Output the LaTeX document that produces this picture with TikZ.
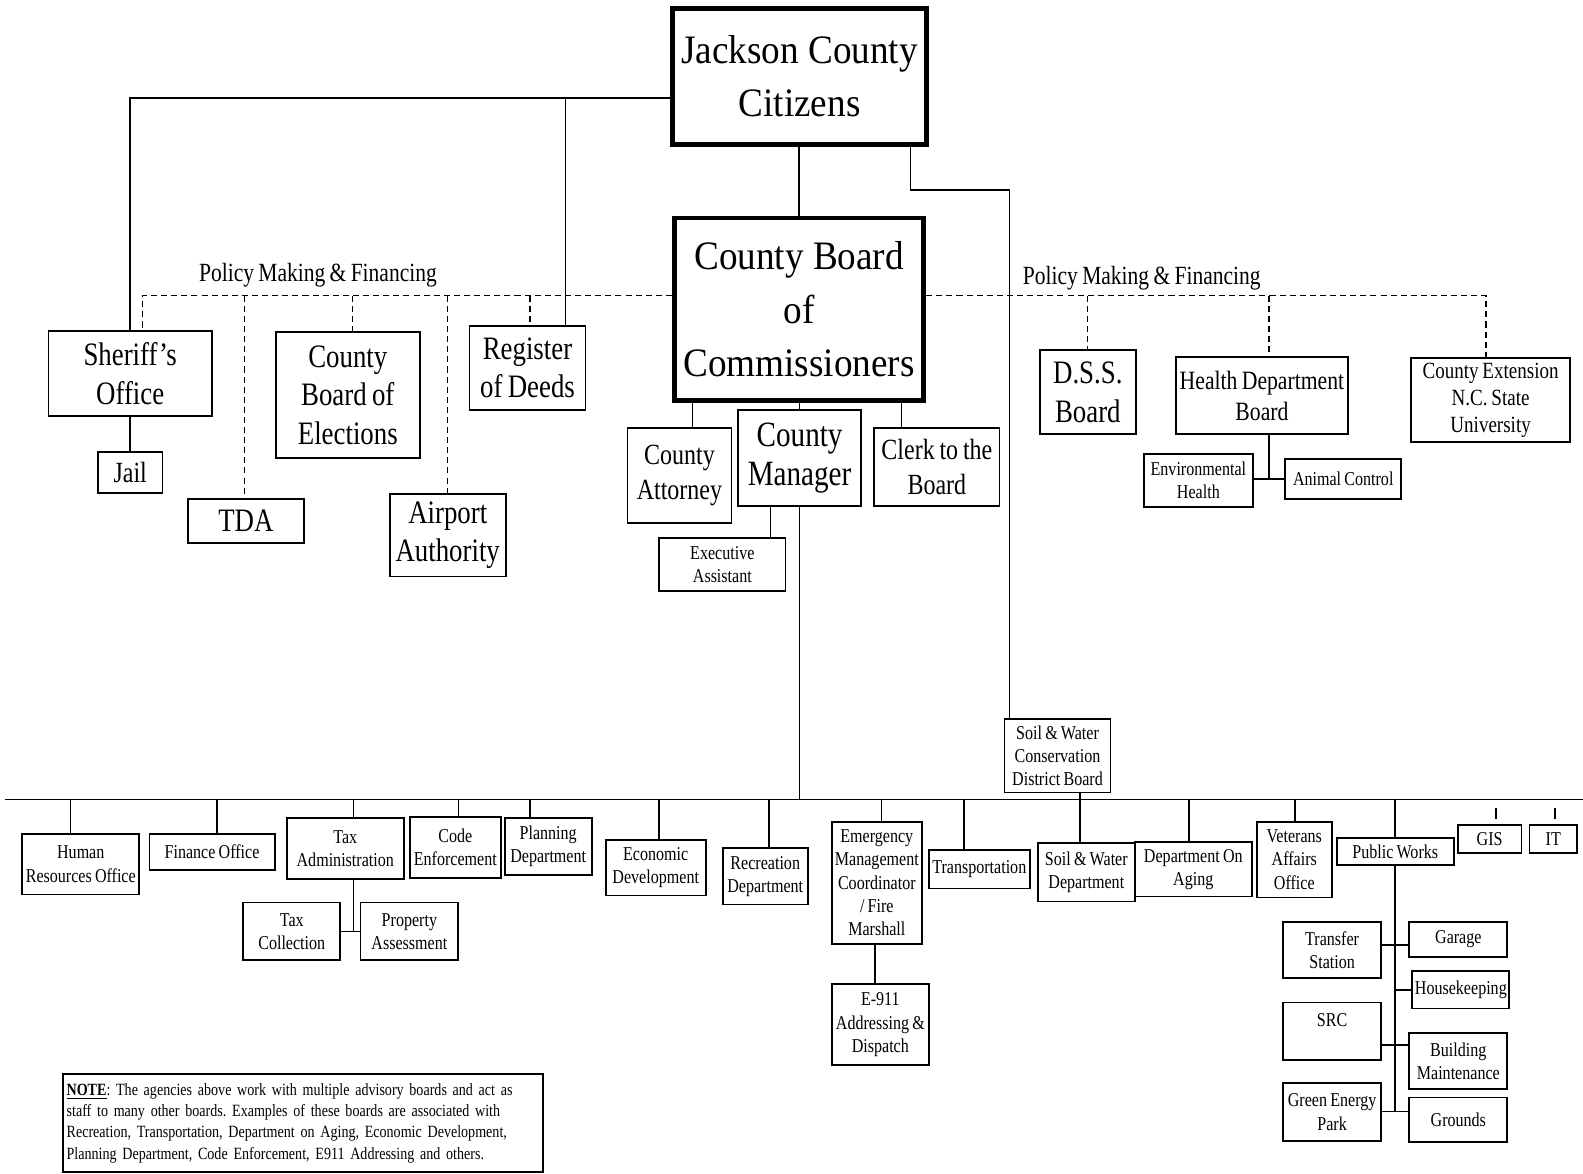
\documentclass[tikz,border=0pt]{standalone}
\usepackage{fontspec}
\setmainfont{Liberation Serif}[FakeStretch=0.82, WordSpace=0.8]
\newfontfamily\wideserif{Liberation Serif}[FakeStretch=0.92]
\usepackage{tikz}

\tikzset{
  box/.style={draw, line width=0.9pt, align=center, inner sep=1pt},
  head/.style={box, line width=2.4pt, font=\wideserif\fontsize{20}{26.5}\selectfont},
  sz/.style 2 args={minimum width=#1*0.5pt, minimum height=#2*0.5pt},
  tL/.style={font=\fontsize{16.2}{19}\selectfont},
  tM/.style={font=\fontsize{14.5}{17}\selectfont},
  tS/.style={font=\fontsize{9.7}{11.5}\selectfont},
  policy/.style={dash pattern=on 3pt off 2pt, line width=0.6pt}
}

\begin{document}
\begin{tikzpicture}[x=0.5pt, y=-0.5pt, line width=0.8pt]

% draw the space
\fill[white] (0,0) rectangle (1568,1162);
\useasboundingbox (0,0) rectangle (1568,1162);

% the two heads
\node[head, sz={252}{135}] (citizens) at (792,75.5) {Jackson County\\Citizens};
\node[head, sz={247}{181}] (board) at (791.5,306.5) {County Board\\of\\Commissioners};

% elected offices and boards, left
\node[box, tL, sz={162}{84}] (sheriff) at (129,370) {Sheriff's\\Office};
\node[box, tM, sz={64}{40}] (jail) at (129,468) {Jail};
\node[box, tL, sz={115}{44}] (tda) at (243.5,516) {TDA};
\node[box, tL, sz={143}{125}] (elections) at (344.5,391.5) {County\\Board of\\Elections};
\node[box, tL, sz={115}{82}] (airport) at (443.5,530) {Airport\\Authority};
\node[box, tL, sz={115}{83}] (register) at (522.5,364.5) {Register\\of Deeds};

% staff of the board
\node[box, tM, sz={103}{94}] (attorney) at (673,471) {County\\Attorney};
\node[box, font=\fontsize{17.6}{19.5}\selectfont, sz={122}{95}] (manager) at (792,453.5) {County\\Manager};
\node[box, tM, sz={124}{77}] (clerk) at (928,462.5) {Clerk to the\\Board};
\node[box, tS, sz={125}{52}] (exec) at (715.5,559) {Executive\\Assistant};

% boards, right
\node[box, tL, sz={95}{83}] (dss) at (1077.5,388.5) {D.S.S.\\Board};
\node[box, font=\fontsize{13.1}{15.5}\selectfont, sz={170}{76}] (health) at (1250,392) {Health Department\\Board};
\node[box, tS, sz={108}{52}] (env) at (1187,476) {Environmental\\Health};
\node[box, tS, sz={115}{39}] (animal) at (1330.5,474.5) {Animal Control};
\node[box, font=\fontsize{11.5}{13.5}\selectfont, sz={157}{83}] (extension) at (1476.5,396.5) {County Extension\\N.C. State\\University};
\node[box, tS, sz={105}{73}] (swcd) at (1047.5,748.5) {Soil \& Water\\Conservation\\District Board};

\node[font=\fontsize{13}{15}\selectfont] (polL) at (315,273) {Policy Making \& Financing};
\node[font=\fontsize{13}{15}\selectfont] (polR) at (1131,276) {Policy Making \& Financing};

% departments
\node[box, tS, sz={116}{60}] (hr) at (80,856) {Human\\Resources Office};
\node[box, tS, sz={124}{36}] (fin) at (210,844) {Finance Office};
\node[box, tS, sz={116}{61}] (taxadm) at (342,840.5) {Tax\\Administration};
\node[box, tS, sz={90}{61}] (code) at (451,839.5) {Code\\Enforcement};
\node[box, tS, sz={86}{57}] (plan) at (543,838.5) {Planning\\Department};
\node[box, tS, sz={96}{57}] (taxcol) at (289,922.5) {Tax\\Collection};
\node[box, tS, sz={97}{57}] (prop) at (405.5,922.5) {Property\\Assessment};
\node[box, tS, sz={99}{55}] (econ) at (649.5,859.5) {Economic\\Development};
\node[box, tS, sz={84}{56}] (rec) at (758,868) {Recreation\\Department};
\node[box, tS, sz={89}{121}] (ems) at (868.5,874.5) {Emergency\\Management\\Coordinator\\/ Fire\\Marshall};
\node[box, tS, sz={96}{80}] (e911) at (872,1015) {E-911\\Addressing \&\\Dispatch};
\node[box, tS, sz={100}{38}] (trans) at (970,861) {Transportation};
\node[box, tS, sz={96}{58}] (swd) at (1076,864) {Soil \& Water\\Department};
\node[box, tS, sz={116}{54}] (aging) at (1182,861) {Department On\\Aging};
\node[box, tS, sz={74}{75}] (vet) at (1282,851.5) {Veterans\\Affairs\\Office};
\node[box, tS, sz={116}{27}] (pw) at (1382,843.5) {Public Works};
\node[box, tS, sz={63}{28}] (gis) at (1475.5,831) {GIS};
\node[box, tS, sz={47}{28}] (it) at (1538.5,831) {IT};
\node[box, tS, sz={97}{56}] (transfer) at (1319.5,941) {Transfer\\Station};
\node[box, tS, sz={97}{35}] (garage) at (1444.5,930.5) {Garage};
\node[box, tS, sz={96}{37}] (house) at (1447,980.5) {Housekeeping};
\node[box, tS, sz={97}{57}] (src) at (1319.5,1021.5) {SRC\\~};
\node[box, tS, sz={97}{56}] (bldg) at (1444.5,1051) {Building\\Maintenance};
\node[box, tS, sz={97}{57}] (green) at (1319.5,1101.5) {Green Energy\\Park};
\node[box, tS, sz={97}{44}] (grounds) at (1444.5,1109) {Grounds};

% note
\node[box, align=left, text width=234pt, sz={476}{97}, font=\fontsize{8.5}{10.5}\selectfont\frenchspacing] (note) at (300,1112.5)
  {\textbf{\underline{NOTE}}: The agencies above work with multiple advisory boards and act as\\
   staff to many other boards. Examples of these boards are associated with\\
   Recreation, Transportation, Department on Aging, Economic Development,\\
   Planning Department, Code Enforcement, E911 Addressing and others.};

% lines from the citizens
\draw (citizens.west |- 0,97) -| (sheriff.north);
\draw (560,97) -- (register.north -| 560,0);
\draw (citizens.south -| board.north) -- (board.north);
\coordinate (cr) at (1000,188);
\draw (citizens.south -| 902,0) |- (cr) -- (swcd.north -| cr);
\draw (sheriff) -- (jail);

% policy making lines
\coordinate (pl) at (141,293);
\coordinate (pr) at (1472,293);
\draw[policy] (board.west |- pl) -- (pl) -- (pl |- sheriff.north);
\draw[policy] (board.east |- pr) -- (pr) -- (pr |- extension.north);
\foreach \n/\x in {tda/242, elections/349, airport/443, register/525, dss/1077, health/1257}
  \draw[policy] (pl -| \x,0) -- (\n.north -| \x,0);

% board staff
\draw (board.south -| 686,0) -- (attorney.north -| 686,0);
\draw (board.south -| manager.north) -- (manager.north);
\draw (board.south -| 893,0) -- (clerk.north -| 893,0);
\draw (manager.south -| 763,0) -- (exec.north -| 763,0);
\draw (health.south -| 1257,0) |- (animal.west);
\draw (env.east |- animal.west) -- (animal.west);

% the bus
\coordinate (busL) at (5,792);
\coordinate (busR) at (1568,792);
\draw (busL) -- (busR);
\draw (manager.south) -- (manager.south |- busL);
\draw (swcd.south -| 1070,0) -- (swd.north -| 1070,0);
\foreach \n/\x in {hr/70, fin/215, taxadm/350, code/454, plan/525, econ/653, rec/762, ems/873, trans/955, aging/1178, vet/1283, pw/1382}
  \draw (busL -| \x,0) -- (\n.north -| \x,0);
\foreach \n/\x in {gis/1482, it/1540}
  \draw (\n.north -| \x,0) ++(0,-5) -- ++(0,-11);

% sub units
\draw (taxadm.south -| 350,0) |- (prop.west);
\draw (taxcol.east) -- (prop.west);
\draw (ems.south -| 867,0) -- (e911.north -| 867,0);
\draw (pw.south) -- (pw.south |- 0,1101);
\draw (transfer.east |- 0,936) -- (garage.west |- 0,936);
\draw (pw.south |- house.west) -- (house.west);
\draw (src.east |- 0,1035) -- (bldg.west |- 0,1035);
\draw (green.east |- 0,1101) -- (grounds.west |- 0,1101);

\end{tikzpicture}
\end{document}
